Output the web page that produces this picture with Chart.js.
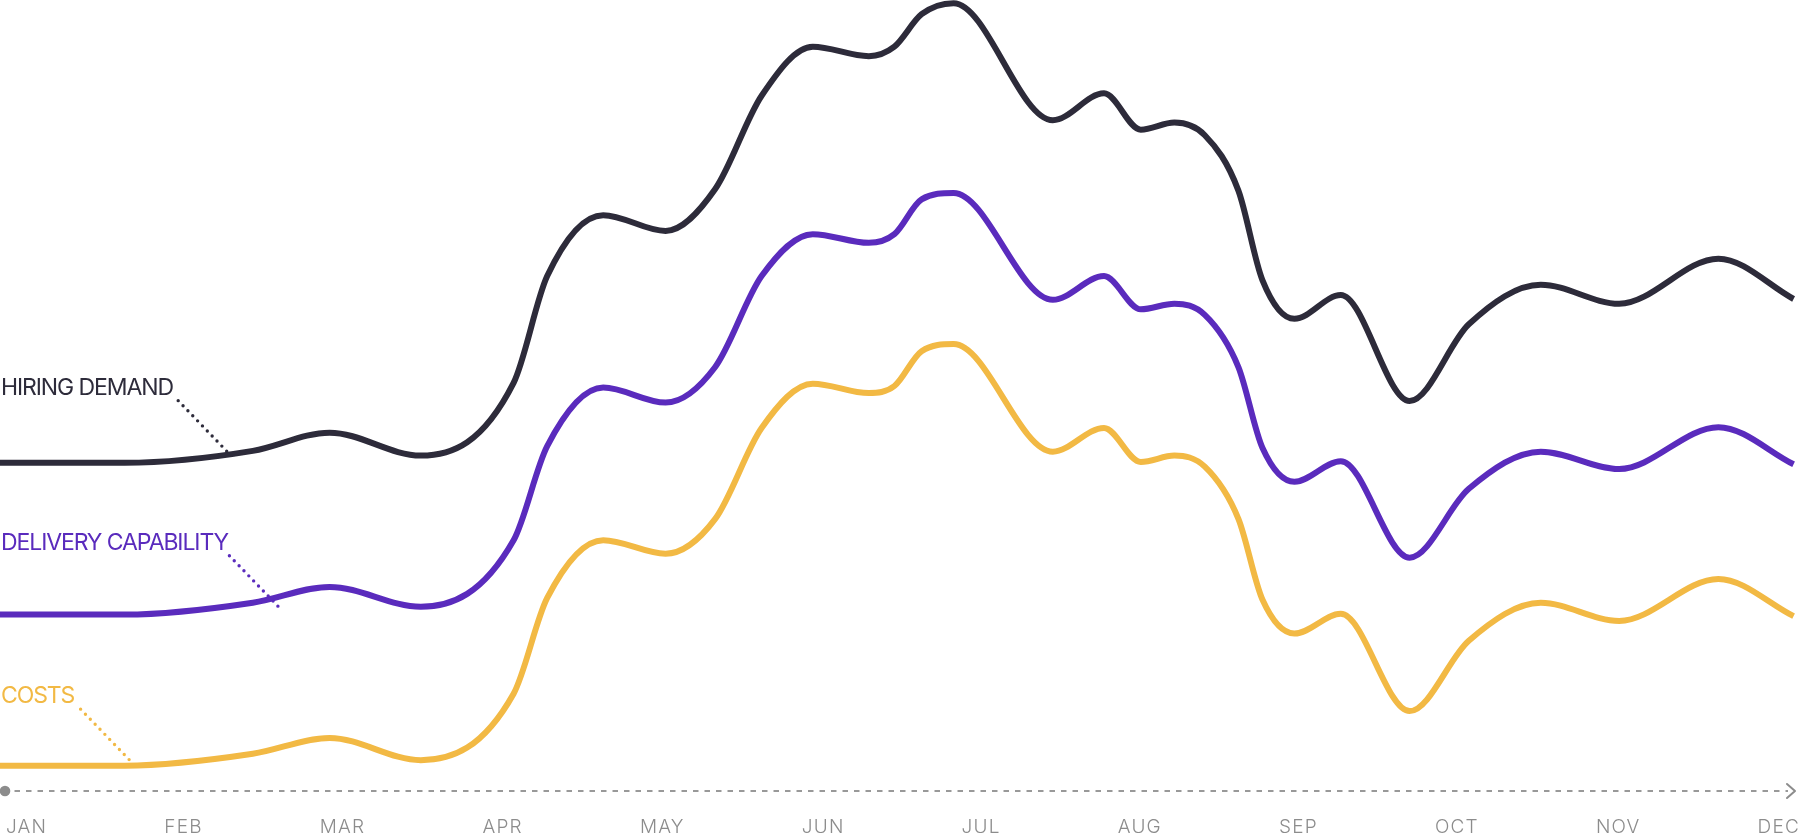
<!DOCTYPE html>
<html>
<head>
<meta charset="utf-8">
<script src="https://cdn.jsdelivr.net/npm/chart.js@4.4.1/dist/chart.umd.min.js"></script>
<style>
  html, body { margin: 0; padding: 0; background: #ffffff; }
  #wrap { position: relative; width: 1800px; height: 833px; }
</style>
</head>
<body>
<div id="wrap"><canvas id="chart"></canvas></div>
<script>
// ---- data ----
const monthLabels = ['JAN','FEB','MAR','APR','MAY','JUN','JUL','AUG','SEP','OCT','NOV','DEC'];
// position of each sample along the year, in months from the start of January
const pointMonths = [0, 0.78, 1.58, 2.06, 2.63, 3.21, 3.42, 3.77, 4.16, 4.47, 4.76, 5.08, 5.43, 5.59, 5.76, 5.96,
                     6.58, 6.9, 7.13, 7.34, 7.53, 7.74, 7.89, 8.09, 8.38, 8.81, 9.18, 9.63, 10.12, 10.74, 11.21];
const hiringDemand = [41.5, 41.5, 43.0, 45.3, 42.4, 51.6, 65.1, 72.8, 70.8, 76.1, 87.9, 94.1, 92.9, 94.1, 98.2, 99.6,
                      84.8, 88.2, 83.6, 84.5, 82.9, 75.9, 64.6, 59.7, 62.7, 49.3, 59.0, 64.0, 61.6, 67.3, 62.2];
const deliveryCapability = [22.3, 22.3, 23.8, 25.8, 23.3, 31.7, 43.6, 51.0, 49.1, 53.6, 65.1, 70.4, 69.3, 70.4, 74.8, 75.6,
                            62.1, 65.1, 60.9, 61.6, 60.2, 53.6, 43.4, 39.1, 41.7, 29.5, 38.2, 42.9, 40.7, 46.0, 41.3];
const costs = [3.2, 3.2, 4.7, 6.7, 3.9, 12.3, 24.4, 31.7, 30.0, 34.4, 45.9, 51.5, 50.3, 51.2, 55.6, 56.5,
               42.9, 45.9, 41.6, 42.4, 41.0, 34.4, 24.2, 19.9, 22.4, 10.1, 19.0, 23.8, 21.5, 26.8, 22.1];
const seriesNames = ['HIRING DEMAND', 'DELIVERY CAPABILITY', 'COSTS'];
// where each label's dotted leader touches its line (month, value)
const leaderMonths = [1.42, 1.74, 0.81];
const leaderValues = [42.9, 23.3, 3.9];

// ---- styles ----
const COLORS = ['#2d2b3a', '#5a2bbd', '#f2b944'];
const GRAY = '#8c8c8c';
const X_MAX = 11.25;
const TICK_SPACING = '1.2px';
const TICK_FONT = { family: 'Inter', size: 19, weight: 300, lineHeight: 0.58 };

function series(values) {
  return pointMonths.map((m, i) => ({ x: m, y: values[i] }));
}

const decor = {
  id: 'decor',
  beforeDraw(chart) {
    chart.ctx.letterSpacing = TICK_SPACING;
  },
  beforeDatasetsDraw(chart) {
    const { ctx, scales: { x } } = chart;
    const axisY = x.top;
    ctx.save();
    // dashed axis line
    ctx.strokeStyle = '#999999';
    ctx.lineWidth = 2;
    ctx.setLineDash([5.5, 6]);
    ctx.lineDashOffset = -3;
    ctx.beginPath();
    ctx.moveTo(x.left, axisY);
    ctx.lineTo(x.right - 12, axisY);
    ctx.stroke();
    ctx.setLineDash([]);
    // start dot
    ctx.fillStyle = GRAY;
    ctx.beginPath();
    ctx.arc(x.left + 5, axisY, 5.3, 0, Math.PI * 2);
    ctx.fill();
    // end arrow
    ctx.strokeStyle = GRAY;
    ctx.lineWidth = 2;
    ctx.lineCap = 'round';
    ctx.lineJoin = 'round';
    ctx.beginPath();
    ctx.moveTo(x.right - 13, axisY - 7);
    ctx.lineTo(x.right - 5, axisY);
    ctx.lineTo(x.right - 13, axisY + 7);
    ctx.stroke();
    ctx.restore();
  },
  afterDraw(chart) {
    const { ctx, scales: { x, y } } = chart;
    ctx.save();
    // series labels with dotted leaders
    chart.data.datasets.forEach((ds, i) => {
      const ex = x.getPixelForValue(leaderMonths[i]);
      const ey = y.getPixelForValue(leaderValues[i]);
      const sx = ex - 49, sy = ey - 51;
      ctx.strokeStyle = ds.borderColor;
      ctx.lineWidth = 3.4;
      ctx.lineCap = 'round';
      ctx.setLineDash([0, 7]);
      ctx.beginPath();
      ctx.moveTo(sx, sy);
      ctx.lineTo(ex, ey);
      ctx.stroke();
      ctx.setLineDash([]);
      ctx.font = '400 23px Inter';
      ctx.letterSpacing = '-1.1px';
      ctx.fillStyle = ds.borderColor;
      ctx.textAlign = 'left';
      ctx.textBaseline = 'middle';
      ctx.fillText(ds.label, 1, sy - 13);
    });
    ctx.restore();
  }
};

new Chart(document.getElementById('chart'), {
  type: 'line',
  data: {
    datasets: [
      { label: seriesNames[0], data: series(hiringDemand), borderColor: COLORS[0], borderWidth: 6 },
      { label: seriesNames[1], data: series(deliveryCapability), borderColor: COLORS[1], borderWidth: 6 },
      { label: seriesNames[2], data: series(costs), borderColor: COLORS[2], borderWidth: 6 }
    ]
  },
  options: {
    responsive: true,
    maintainAspectRatio: false,
    animation: false,
    events: [],
    layout: { padding: 0 },
    elements: {
      line: { borderWidth: 6, cubicInterpolationMode: 'monotone', borderJoinStyle: 'round', fill: false },
      point: { radius: 0, hoverRadius: 0 }
    },
    datasets: { line: { clip: false } },
    plugins: { legend: { display: false }, tooltip: { enabled: false } },
    scales: {
      x: {
        type: 'linear',
        min: 0,
        max: X_MAX,
        afterBuildTicks(scale) {
          // month labels spread with equal gaps between them across the width
          const ctx = scale.ctx;
          ctx.save();
          ctx.font = `${TICK_FONT.weight} ${TICK_FONT.size}px ${TICK_FONT.family}`;
          ctx.letterSpacing = TICK_SPACING;
          const widths = monthLabels.map(t => ctx.measureText(t).width);
          ctx.restore();
          const W = scale.chart.width;
          const start = 6, end = W;
          const total = widths.reduce((a, b) => a + b, 0);
          const gap = (end - start - total) / (monthLabels.length - 1);
          let pos = start;
          const perUnit = W / X_MAX;
          scale.ticks = monthLabels.map((t, i) => {
            const v = pos / perUnit;
            pos += widths[i] + gap;
            return { value: v };
          });
        },
        ticks: {
          autoSkip: false,
          maxRotation: 0,
          align: 'start',
          padding: 0,
          color: GRAY,
          font: TICK_FONT,
          callback: (v, i) => monthLabels[i]
        },
        grid: { display: true, drawOnChartArea: false, drawTicks: true, tickLength: 31, color: 'rgba(0,0,0,0)' },
        border: { display: false }
      },
      y: { display: false, min: 0, max: 100 }
    }
  },
  plugins: [decor]
});
</script>
</body>
</html>
